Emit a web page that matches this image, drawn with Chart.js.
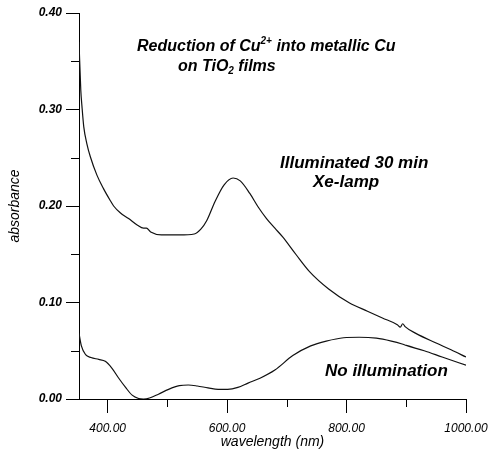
<!DOCTYPE html>
<html>
<head>
<meta charset="utf-8">
<script src="https://cdn.jsdelivr.net/npm/chart.js@4.4.0/dist/chart.umd.min.js"></script>
<style>
html,body{margin:0;padding:0;background:#fff;}
</style>
</head>
<body>
<canvas id="specChart" width="489" height="453"></canvas>
<script>
// wavelength (nm) / absorbance
var illumX = [352,355,357,360,365,371,382,393,404,410,421,435,450,460,465,472,490,520,545,556,566,580,595,610,622,638,652,666,680,693,715,738,770,805,835,860,885,890,894,898,916,950,975,1000];
var illumY = [0.37,0.32,0.303,0.282,0.265,0.251,0.232,0.218,0.206,0.200,0.193,0.187,0.180,0.177,0.177,0.173,0.170,0.170,0.171,0.176,0.185,0.205,0.222,0.229,0.226,0.213,0.199,0.187,0.177,0.168,0.150,0.132,0.114,0.0995,0.091,0.084,0.077,0.0745,0.078,0.075,0.068,0.058,0.051,0.0435];

var darkX = [352,356,363,372,385,396,407,418,430,441,452,460,470,485,502,520,535,550,568,585,601,618,635,655,680,710,740,766,795,821,850,875,893,900,930,960,1000];
var darkY = [0.068,0.055,0.046,0.043,0.041,0.039,0.032,0.022,0.012,0.004,0.0005,0.0,0.001,0.005,0.010,0.0138,0.0145,0.0135,0.0115,0.010,0.010,0.012,0.0165,0.0215,0.030,0.045,0.055,0.060,0.0635,0.064,0.063,0.060,0.057,0.0555,0.050,0.0435,0.035];

var xMajorTicks = [400,600,800,1000];
var xMinorTicks = [500,700,900];
var yMinorTicks = [0.05,0.15,0.25,0.35];

function toPoints(xs, ys){
    return xs.map(function(x,i){ return {x:x, y:ys[i]}; });
}

// rich text: parts = [text, size, dy]
function drawRich(ctx, parts, x, y){
    parts.forEach(function(p){
        ctx.font = 'italic bold ' + p[1] + 'px "Liberation Sans", Arial, sans-serif';
        ctx.fillText(p[0], x, y + p[2]);
        x += ctx.measureText(p[0]).width;
    });
}

var extras = {
    id: 'extras',
    afterDraw: function(chart){
        var ctx = chart.ctx, xs = chart.scales.x, ys = chart.scales.y;
        ctx.save();
        ctx.strokeStyle = '#000';
        ctx.lineWidth = 1;
        xMinorTicks.forEach(function(v){
            var px = Math.round(xs.getPixelForValue(v)) + 0.5;
            ctx.beginPath(); ctx.moveTo(px, ys.bottom); ctx.lineTo(px, ys.bottom + 8); ctx.stroke();
        });
        yMinorTicks.forEach(function(v){
            var py = Math.round(ys.getPixelForValue(v)) + 0.5;
            ctx.beginPath(); ctx.moveTo(xs.left, py); ctx.lineTo(xs.left - 8, py); ctx.stroke();
        });

        ctx.fillStyle = '#000';
        ctx.textBaseline = 'alphabetic';
        drawRich(ctx, [['Reduction of Cu',16,0],['2+',10,-7],[' into metallic Cu',16,0]], 137, 51);
        drawRich(ctx, [['on TiO',16,0],['2',10,3],[' films',16,0]], 178, 71);
        drawRich(ctx, [['Illuminated 30 min',17,0]], 280, 168);
        drawRich(ctx, [['Xe-lamp',17,0]], 313, 187);
        drawRich(ctx, [['No illumination',17,0]], 325, 376);
        ctx.restore();
    }
};

var lineStyle = {
    borderColor: '#111',
    borderWidth: 1.2,
    pointRadius: 0,
    fill: false,
    cubicInterpolationMode: 'monotone'
};

new Chart(document.getElementById('specChart'), {
    type: 'line',
    data: {
        datasets: [
            Object.assign({label: 'Illuminated 30 min Xe-lamp', data: toPoints(illumX, illumY)}, lineStyle),
            Object.assign({label: 'No illumination', data: toPoints(darkX, darkY)}, lineStyle)
        ]
    },
    options: {
        responsive: false,
        animation: false,
        layout: { padding: {left: 0, right: 23, top: 13, bottom: 0} },
        plugins: { legend: {display: false}, tooltip: {enabled: false} },
        scales: {
            x: {
                type: 'linear',
                min: 352,
                max: 1000,
                afterBuildTicks: function(scale){
                    scale.ticks = xMajorTicks.map(function(v){ return {value: v}; });
                },
                afterFit: function(scale){
                    scale.height = 54;
                    scale.paddingLeft = 0;
                    scale.paddingRight = 0;
                },
                border: {display: true, color: '#000', width: 1},
                grid: {drawOnChartArea: false, drawTicks: true, tickLength: 14, color: '#000'},
                ticks: {
                    color: '#000',
                    padding: 8,
                    maxRotation: 0,
                    font: {family: '"Liberation Sans", Arial, sans-serif', size: 12, style: 'italic'},
                    callback: function(v){ return Number(v).toFixed(2); }
                },
                title: {
                    display: true,
                    text: 'wavelength (nm)',
                    color: '#000',
                    padding: {top: 0, bottom: 2},
                    font: {family: '"Liberation Sans", Arial, sans-serif', size: 14, style: 'italic'}
                }
            },
            y: {
                min: 0,
                max: 0.4,
                afterFit: function(scale){
                    scale.width = 79;
                    scale.paddingTop = 0;
                    scale.paddingBottom = 0;
                },
                border: {display: true, color: '#000', width: 1},
                grid: {drawOnChartArea: false, drawTicks: true, tickLength: 13, color: '#000'},
                ticks: {
                    stepSize: 0.1,
                    color: '#000',
                    padding: 4,
                    font: {family: '"Liberation Sans", Arial, sans-serif', size: 12, style: 'italic', weight: 'bold'},
                    callback: function(v){ return Number(v).toFixed(2); }
                },
                title: {
                    display: true,
                    text: 'absorbance',
                    color: '#000',
                    padding: {top: 7, bottom: 0},
                    font: {family: '"Liberation Sans", Arial, sans-serif', size: 14, style: 'italic'}
                }
            }
        }
    },
    plugins: [extras]
});
</script>
</body>
</html>
